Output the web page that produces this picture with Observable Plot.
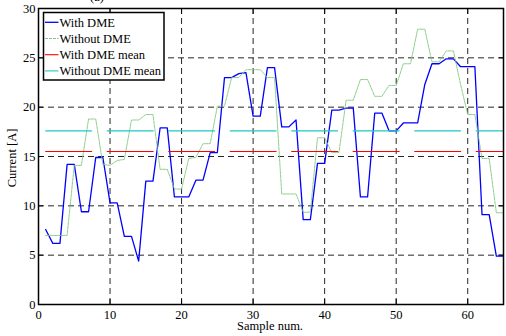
<!DOCTYPE html>
<html><head><meta charset="utf-8">
<script src="https://cdn.jsdelivr.net/npm/d3@7"></script>
<script src="https://cdn.jsdelivr.net/npm/@observablehq/plot@0.6"></script>
<style>body{margin:0;background:#fff;} #chart svg{overflow:visible;}</style>
</head><body><div id="chart"></div>
<script>
const sampleNum = [1,2,3,4,5,6,7,8,9,10,11,12,13,14,15,16,17,18,19,20,21,22,23,24,25,26,27,28,29,30,31,32,33,34,35,36,37,38,39,40,41,42,43,44,45,46,47,48,49,50,51,52,53,54,55,56,57,58,59,60,61,62,63,64,65];
const withDME = [7.6,6.2,6.2,14.2,14.2,9.4,9.4,14.9,14.9,10.3,
 10.3,6.9,6.9,4.4,12.5,12.5,17.9,17.9,10.9,10.9,
 10.9,12.6,12.6,15.4,15.4,23.0,23.0,23.4,23.5,19.1,
 19.1,24.0,24.0,18.0,18.0,18.7,8.6,8.6,14.3,14.3,
 19.7,19.7,19.9,19.9,10.9,10.9,19.4,19.4,17.6,17.6,
 18.4,18.4,18.4,22.3,24.4,24.4,24.9,24.9,24.1,24.1,
 24.1,9.1,9.1,4.9,4.9];
const withoutDME = [7.0,7.0,7.0,7.0,14.1,14.1,18.8,18.8,14.2,14.1,
 14.6,14.7,18.7,18.7,19.25,19.25,13.7,13.7,11.7,11.7,
 14.8,14.9,16.3,16.3,20.1,20.1,23.0,23.0,23.8,23.8,
 23.8,23.0,23.0,11.2,11.2,11.2,9.35,9.35,16.9,16.9,
 15.4,15.4,20.7,20.7,22.8,22.8,21.1,21.1,22.2,22.2,
 24.4,24.4,27.9,27.9,24.6,24.6,25.7,25.7,22.3,19.25,
 19.25,14.8,14.8,9.3,9.3];
const meanWithDME = 15.5;
const meanWithoutDME = 17.6;
const xTicks = [0,10,20,30,40,50,60];
const yTicks = [0,5,10,15,20,25,30];
const seriesNames = ["With DME","Without DME","With DME mean","Without DME mean"];
const seriesColors = ["#0000ff","#82c882","#ff0000","#1fc8c8"];
const xLabel = "Sample num.";
const yLabel = "Current [A]";
const titleText = "(a)";

const font = "'Liberation Serif','Times New Roman',serif";
const blueRows = sampleNum.map((s,i)=>({s, v:withDME[i]}));
const greenRows = sampleNum.map((s,i)=>({s, v:withoutDME[i]}));
const first = sampleNum[0], last = sampleNum[sampleNum.length-1];
const redRows = [{s:first, v:meanWithDME},{s:last, v:meanWithDME}];
const cyanRows = [{s:first, v:meanWithoutDME},{s:last, v:meanWithoutDME}];

const gridStyle = {stroke:"#000", strokeOpacity:0.85, strokeWidth:1, strokeDasharray:"6,4"};
const plot = Plot.plot({
  width:506, height:336,
  marginLeft:38, marginRight:3, marginTop:8, marginBottom:32,
  style:{fontFamily:font, fontSize:"12.5px", color:"black", background:"white"},
  x:{domain:[0,65]}, y:{domain:[0,30]},
  marks:[
    Plot.gridX(xTicks.slice(1), gridStyle),
    Plot.gridY(yTicks.slice(1,-1), gridStyle),
    Plot.axisX(xTicks, {anchor:"bottom", tickSize:0, tickPadding:6, label:null}),
    Plot.axisY(yTicks, {anchor:"left", tickSize:0, tickPadding:3, label:null}),
    Plot.axisX(xTicks, {anchor:"bottom", tickSize:-5, tickFormat:()=>"", label:null}),
    Plot.axisX(xTicks, {anchor:"top", tickSize:-5, tickFormat:()=>"", label:null}),
    Plot.axisY(yTicks, {anchor:"left", tickSize:-5, tickFormat:()=>"", label:null}),
    Plot.axisY(yTicks, {anchor:"right", tickSize:-5, tickFormat:()=>"", label:null}),
    Plot.line(blueRows, {x:"s", y:"v", stroke:seriesColors[0], strokeWidth:1.3}),
    Plot.line(greenRows, {x:"s", y:"v", stroke:seriesColors[1], strokeWidth:0.9, strokeDasharray:"3,1"}),
    Plot.line(redRows, {x:"s", y:"v", stroke:seriesColors[2], strokeWidth:1.1, strokeDasharray:"46,15.5"}),
    Plot.line(cyanRows, {x:"s", y:"v", stroke:seriesColors[3], strokeWidth:1.1, strokeDasharray:"46,15.5"}),
    Plot.frame({stroke:"black", strokeWidth:1.5})
  ]
});
document.getElementById("chart").appendChild(plot);

const svg = d3.select(plot);
// axis titles
svg.append("text").attr("x",270).attr("y",330).attr("text-anchor","middle")
  .attr("font-family",font).attr("font-size",12.5).attr("fill","black").text(xLabel);
svg.append("text").attr("transform","translate(12,158) rotate(-90)").attr("text-anchor","middle")
  .attr("dy","0.35em").attr("font-family",font).attr("font-size",12.5).attr("fill","black").text(yLabel);
svg.append("text").attr("x",97).attr("y",1).attr("text-anchor","middle")
  .attr("font-family",font).attr("font-size",12.5).attr("fill","black").text(titleText);
// legend
const lg = svg.append("g").attr("font-family",font).attr("font-size",12.5).attr("text-anchor","start");
lg.append("rect").attr("x",43.5).attr("y",12.5).attr("width",120.5).attr("height",67.5)
  .attr("fill","white").attr("stroke","black").attr("stroke-width",1.5);
seriesNames.forEach((name,i)=>{
  const y = 22.3 + i*16.2;
  lg.append("line").attr("x1",45).attr("x2",58.5).attr("y1",y).attr("y2",y)
    .attr("stroke",seriesColors[i]).attr("stroke-width", i===0?1.3:1.1)
    .attr("stroke-dasharray", i===1?"3,1":null);
  lg.append("text").attr("x",59.5).attr("y",y).attr("dy","0.35em").attr("text-anchor","start")
    .attr("fill","black").text(name);
});
</script></body></html>
